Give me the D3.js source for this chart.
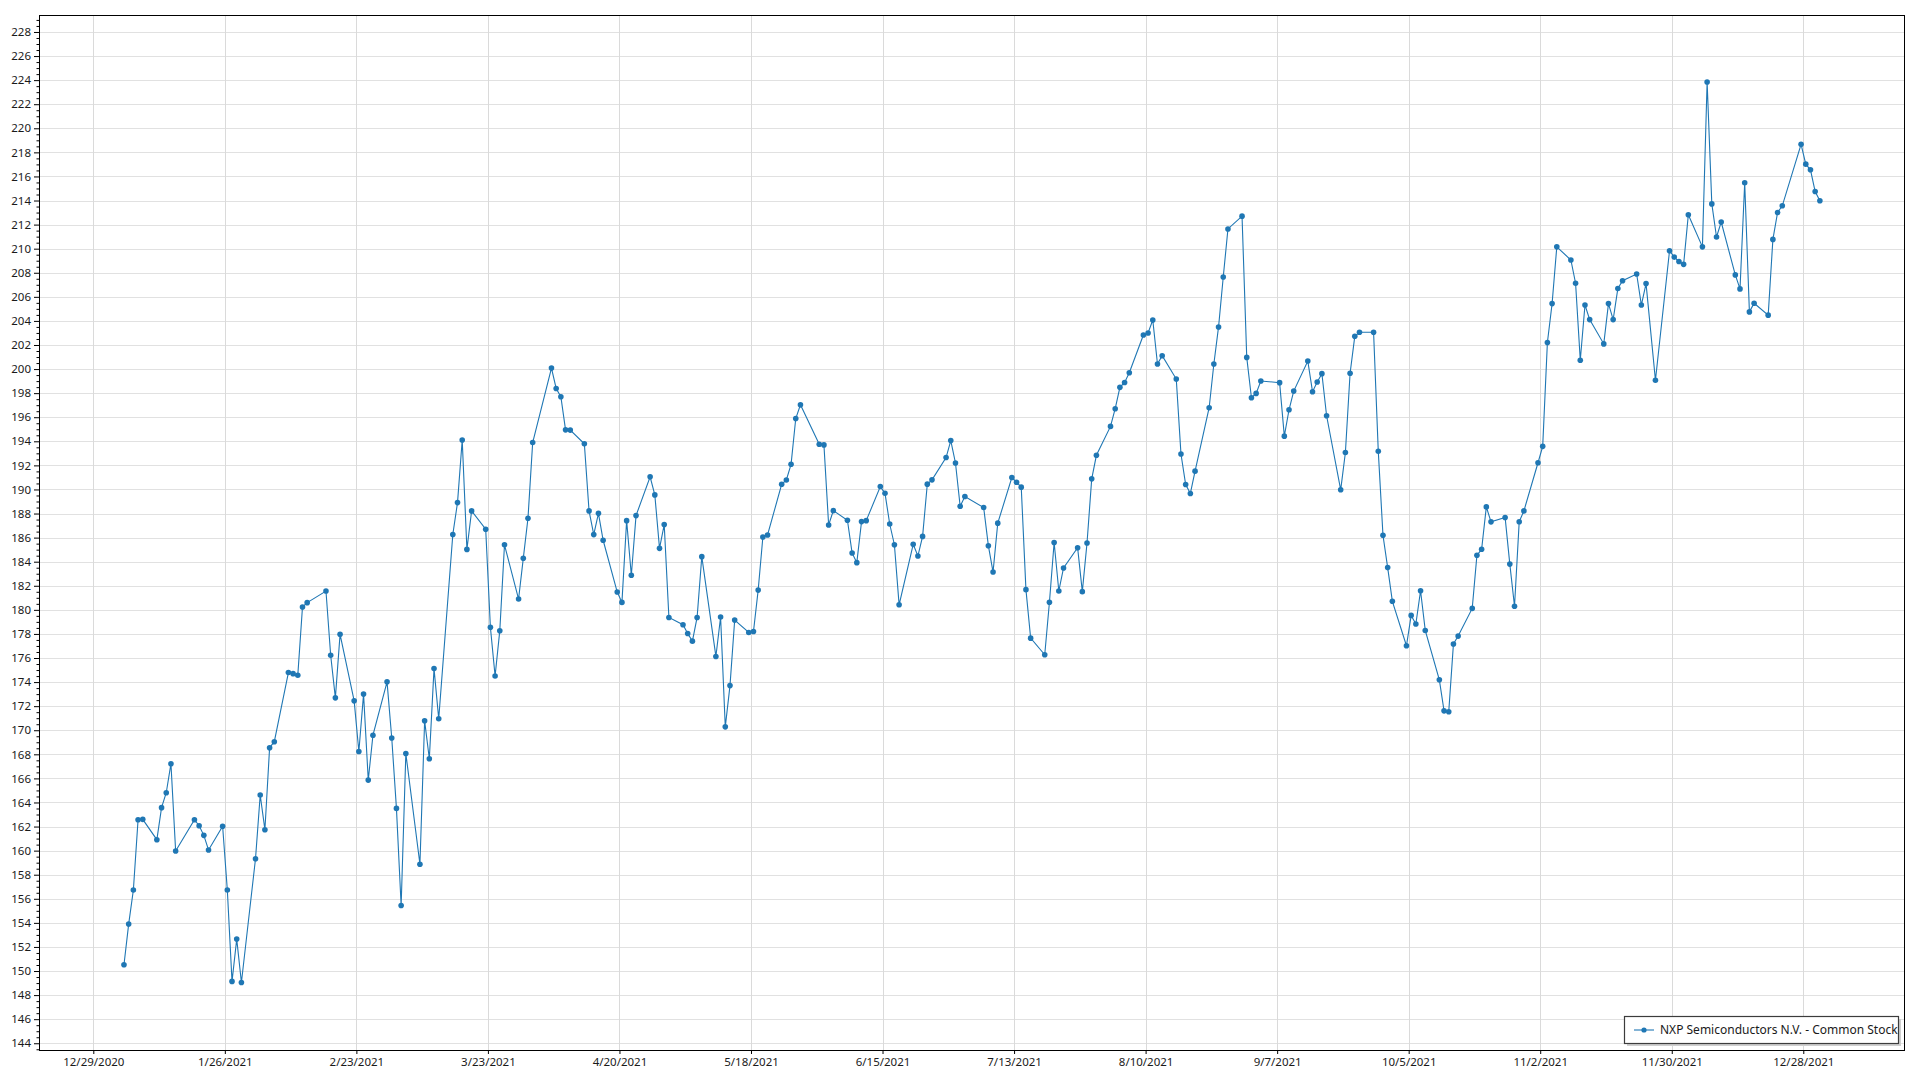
<!DOCTYPE html>
<html><head><meta charset="utf-8">
<script src="https://cdn.jsdelivr.net/npm/d3@7"></script>
<style>
html,body{margin:0;padding:0;background:#fff;}
svg{display:block;font-family:"Noto Sans","Open Sans",sans-serif;}
</style></head>
<body>
<svg id="chart" width="1920" height="1080"></svg>
<script>
// ---- DATA (2021 trading days, by month) ----
const seriesName = "NXP Semiconductors N.V. - Common Stock";
const janDays = [4,5,6,7,8,11,12,13,14,15,19,20,21,22,25,26,27,28,29];
const janVals = [150.52,153.90,156.73,162.57,162.60,160.91,163.57,164.81,167.22,159.97,162.57,162.07,161.27,160.05,162.02,156.73,149.14,152.65,149.05];
const febDays = [1,2,3,4,5,8,9,10,11,12,16,17,18,19,22,23,24,25,26];
const febVals = [159.33,164.62,161.74,168.55,169.05,174.79,174.70,174.57,180.24,180.60,181.56,176.23,172.69,177.97,172.44,168.24,173.00,165.86,169.59];
const marDays = [1,2,3,4,5,8,9,10,11,12,15,16,17,18,19,22,23,24,25,26,29,30,31];
const marVals = [174.02,169.35,163.51,155.44,168.07,158.87,170.78,167.63,175.12,170.95,186.26,188.91,194.11,185.02,188.22,186.70,178.55,174.51,178.27,185.40,180.90,184.28,187.61];
const aprDays = [1,5,6,7,8,9,12,13,14,15,16,19,20,21,22,23,26,27,28,29,30];
const aprVals = [193.90,200.08,198.39,197.70,194.95,194.93,193.79,188.22,186.25,188.02,185.78,181.48,180.62,187.41,182.87,187.83,191.05,189.55,185.11,187.08,179.37];
const mayDays = [3,4,5,6,7,10,11,12,13,14,17,18,19,20,21,24,25,26,27,28];
const mayVals = [178.76,178.04,177.40,179.37,184.42,176.13,179.40,170.28,173.71,179.15,178.12,178.20,181.64,186.05,186.22,190.43,190.79,192.09,195.89,197.03];
const junDays = [1,2,3,4,7,8,9,10,11,14,15,16,17,18,21,22,23,24,25,28,29,30];
const junVals = [193.76,193.70,187.05,188.24,187.44,184.72,183.92,187.33,187.41,190.24,189.68,187.13,185.41,180.42,185.44,184.47,186.10,190.44,190.80,192.65,194.06,192.20];
const julDays = [1,2,6,7,8,9,12,13,14,15,16,19,20,21,22,23,26,27,28,29,30];
const julVals = [188.61,189.41,188.50,185.33,183.14,187.20,190.99,190.60,190.19,181.68,177.65,176.27,180.63,185.60,181.57,183.48,185.16,181.51,185.55,190.88,192.84];
const augDays = [2,3,4,5,6,9,10,11,12,13,16,17,18,19,20,23,24,25,26,27,30,31];
const augVals = [195.24,196.71,198.48,198.89,199.70,202.83,203.00,204.08,200.42,201.11,199.17,192.94,190.41,189.67,191.52,196.79,200.42,203.50,207.65,211.64,212.70,200.97];
const sepDays = [1,2,3,7,8,9,10,13,14,15,16,17,20,21,22,23,24,27,28,29,30];
const sepVals = [197.62,197.98,199.01,198.87,194.43,196.62,198.17,200.67,198.12,198.92,199.62,196.12,189.97,193.07,199.65,202.72,203.06,203.06,193.18,186.20,183.51];
const octDays = [1,4,5,6,7,8,11,12,13,14,15,18,19,20,21,22,25,26,27,28,29];
const octVals = [180.71,177.02,179.54,178.82,181.59,178.29,174.19,171.61,171.53,177.16,177.82,180.12,184.53,185.03,188.55,187.31,187.67,183.80,180.30,187.32,188.22];
const novDays = [1,2,3,4,5,8,9,10,11,12,15,16,17,18,19,22,23,24,26,29,30];
const novVals = [192.22,193.58,202.21,205.44,210.15,209.06,207.13,200.73,205.32,204.11,202.09,205.44,204.11,206.69,207.34,207.90,205.32,207.10,199.07,209.83,209.30];
const decDays = [1,2,3,6,7,8,9,10,13,14,15,16,17,20,21,22,23,27,28,29,30,31];
const decVals = [208.94,208.70,212.82,210.15,223.85,213.72,210.97,212.21,207.82,206.66,215.47,204.75,205.47,204.48,210.77,213.01,213.56,218.67,217.02,216.55,214.75,213.98];

const xTickLabels = ["12/29/2020","1/26/2021","2/23/2021","3/23/2021","4/20/2021","5/18/2021","6/15/2021","7/13/2021","8/10/2021","9/7/2021","10/5/2021","11/2/2021","11/30/2021","12/28/2021"];
const yTickValues = [144,146,148,150,152,154,156,158,160,162,164,166,168,170,172,174,176,178,180,182,184,186,188,190,192,194,196,198,200,202,204,206,208,210,212,214,216,218,220,222,224,226,228];

// ---- build data ----
const monthDays = [janDays,febDays,marDays,aprDays,mayDays,junDays,julDays,augDays,sepDays,octDays,novDays,decDays];
const monthVals = [janVals,febVals,marVals,aprVals,mayVals,junVals,julVals,augVals,sepVals,octVals,novVals,decVals];
const data = [];
monthDays.forEach((days, m) => days.forEach((d, i) => {
  data.push({date: new Date(2021, m, d, 12, 40), value: monthVals[m][i]});
}));

const parseTick = d3.timeParse("%m/%d/%Y");
const xTicks = xTickLabels.map(s => parseTick(s));
const DAY = 86400000;

// ---- layout ----
const L = 39, R = 1905, T = 15, B = 1050;
const svg = d3.select("#chart");

const x = d3.scaleTime()
  .domain([new Date(xTicks[0].getTime() - 11.56 * DAY), new Date(xTicks[xTicks.length - 1].getTime() + 21.65 * DAY)])
  .range([L, R]);
const y = d3.scaleLinear().domain([143.44, 229.41]).range([B, T]);

// gridlines
const grid = svg.append("g");
grid.selectAll("line.h").data(yTickValues).join("line")
  .attr("x1", L).attr("x2", R)
  .attr("y1", d => Math.round(y(d)) + 0.5).attr("y2", d => Math.round(y(d)) + 0.5)
  .attr("stroke", "#e1e1e1").attr("stroke-width", 1);
grid.selectAll("line.v").data(xTicks).join("line")
  .attr("y1", T).attr("y2", B)
  .attr("x1", d => Math.round(x(d)) + 0.5).attr("x2", d => Math.round(x(d)) + 0.5)
  .attr("stroke", "#dadada").attr("stroke-width", 1);

// axes
const fmt = d3.timeFormat("%-m/%-d/%Y");
const xAxis = d3.axisBottom(x).tickValues(xTicks).tickFormat(fmt).tickSize(4).tickPadding(4).tickSizeOuter(0);
const gx = svg.append("g").attr("transform", `translate(0,${B})`).call(xAxis);
const yAxis = d3.axisLeft(y).tickValues(yTickValues).tickFormat(d3.format("d")).tickSize(5).tickPadding(3).tickSizeOuter(0);
const gy = svg.append("g").attr("transform", `translate(${L},0)`).call(yAxis);
const minorVals = d3.range(143.5, 229.41, 0.5).filter(v => Math.abs(v / 2 - Math.round(v / 2)) > 1e-6);
const gyMinor = svg.append("g").attr("transform", `translate(${L},0)`)
  .call(d3.axisLeft(y).tickValues(minorVals).tickFormat("").tickSize(2.5).tickSizeOuter(0));
gyMinor.select(".domain").remove();
[gx, gy].forEach(g => {
  g.select(".domain").remove();
  g.selectAll("text").attr("font-size", 11.5).attr("fill", "#1a1a1a").attr("font-family", "'Noto Sans','Open Sans',sans-serif");
  g.selectAll("line").attr("stroke", "#000");
});
gyMinor.selectAll("line").attr("stroke", "#000");

// frame
svg.append("rect").attr("x", L + 0.5).attr("y", T + 0.5).attr("width", R - L - 1).attr("height", B - T)
  .attr("fill", "none").attr("stroke", "#000").attr("stroke-width", 1);

// series
const color = "#1f77b4";
const clip = svg.append("clipPath").attr("id", "clip").append("rect").attr("x", L).attr("y", T).attr("width", R - L).attr("height", B - T);
const plot = svg.append("g").attr("clip-path", "url(#clip)");
plot.append("path").datum(data)
  .attr("fill", "none").attr("stroke", color).attr("stroke-width", 1.1)
  .attr("d", d3.line().x(d => x(d.date)).y(d => y(d.value)));
plot.selectAll("circle").data(data).join("circle")
  .attr("cx", d => x(d.date)).attr("cy", d => y(d.value)).attr("r", 2.8).attr("fill", color);

// legend
const lg = svg.append("g");
const lx = 1624, ly = 1016, lw = 274, lh = 27;
lg.append("rect").attr("x", lx + 3).attr("y", ly + 3).attr("width", lw).attr("height", lh).attr("fill", "#cfcfcf");
lg.append("rect").attr("x", lx + 0.5).attr("y", ly + 0.5).attr("width", lw).attr("height", lh).attr("fill", "#fff").attr("stroke", "#3c3c3c").attr("stroke-width", 1.2);
lg.append("line").attr("x1", lx + 10).attr("x2", lx + 30).attr("y1", ly + 14).attr("y2", ly + 14).attr("stroke", color).attr("stroke-width", 1.1);
lg.append("circle").attr("cx", lx + 20).attr("cy", ly + 14).attr("r", 2.6).attr("fill", color);
lg.append("text").attr("x", lx + 36).attr("y", ly + 14).attr("dy", "0.35em")
  .attr("font-size", 12).attr("fill", "#1a1a1a").text(seriesName);
</script>
</body></html>
